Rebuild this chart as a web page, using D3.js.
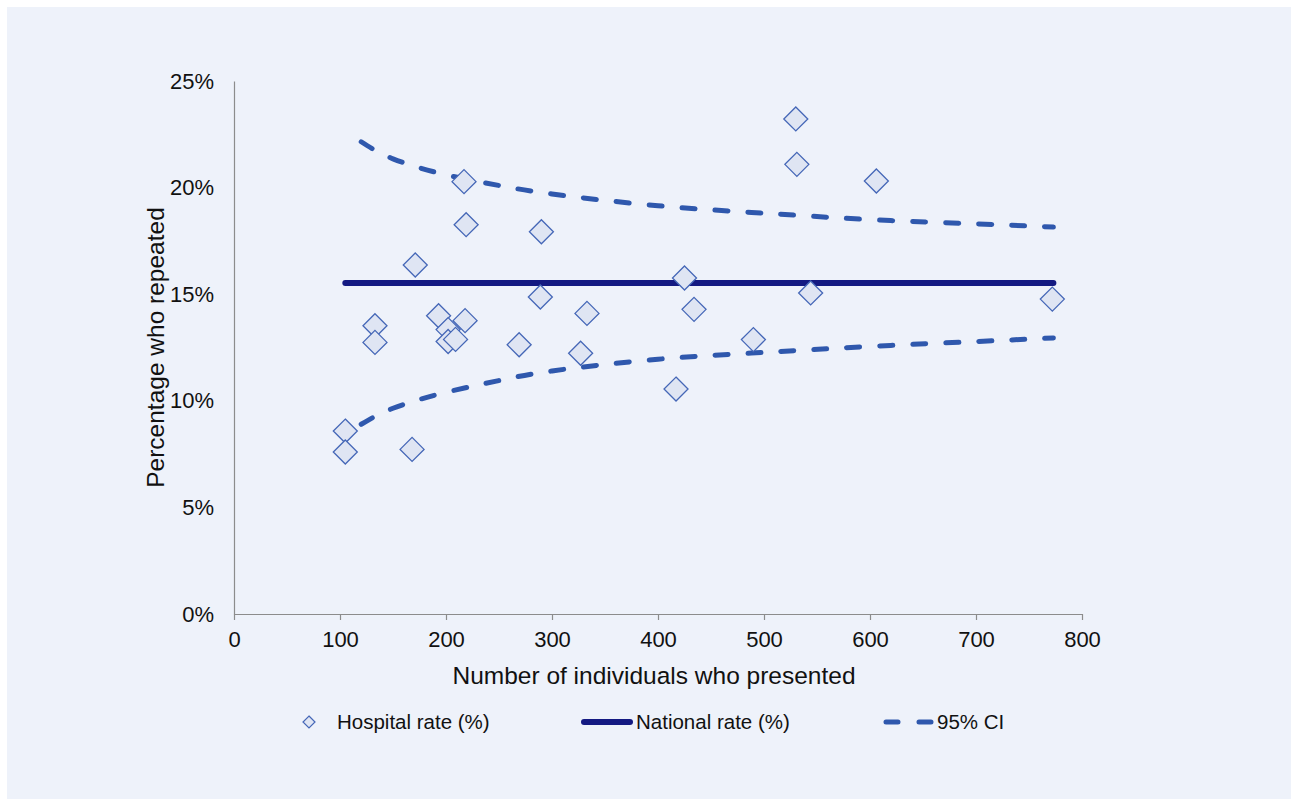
<!DOCTYPE html>
<html>
<head>
<meta charset="utf-8">
<script src="https://cdn.jsdelivr.net/npm/d3@7"></script>
<style>
  body { margin: 0; background: #fff; }
  svg text { font-family: "Liberation Sans", Arial, sans-serif; fill: #111; }
</style>
</head>
<body>
<svg width="1291" height="799"></svg>
<script>
// hospital points: individuals presented, % who repeated
var presented = [105, 105, 133, 133, 168, 171, 193, 218, 202, 202, 209, 217, 219,
                 290, 289, 269, 333, 327, 425, 434, 417, 490, 544, 530, 531, 606, 772];
var repeated  = [8.58, 7.6, 13.52, 12.74, 7.72, 16.37, 13.99, 13.76, 13.34, 12.78, 12.88, 20.28, 18.26,
                 17.93, 14.87, 12.63, 14.1, 12.23, 15.76, 14.29, 10.55, 12.87, 15.06, 23.22, 21.09, 20.31, 14.77];

var nationalRate = 15.53;
var nationalRange = [105, 773];

// 95% CI limits
var ciN     = [120, 150, 200, 250, 300, 400, 500, 600, 700, 773];
var ciUpper = [22.15, 21.35, 20.6, 20.1, 19.7, 19.15, 18.8, 18.5, 18.3, 18.15];
var ciLower = [8.9, 9.65, 10.4, 10.95, 11.4, 11.95, 12.27, 12.55, 12.78, 12.95];

var xTicks = [0, 100, 200, 300, 400, 500, 600, 700, 800];
var yTicks = [0, 5, 10, 15, 20, 25];

var svg = d3.select("svg");

svg.append("rect")
    .attr("x", 7).attr("y", 7)
    .attr("width", 1284).attr("height", 792)
    .attr("fill", "#eef2fa");

var margin = {top: 81, right: 209, bottom: 185, left: 234},
    width = 1291 - margin.left - margin.right,
    height = 799 - margin.top - margin.bottom;

var g = svg.append("g").attr("transform", "translate(" + margin.left + "," + margin.top + ")");

var x = d3.scaleLinear().domain([0, 800]).range([0, width]),
    y = d3.scaleLinear().domain([0, 25]).range([height, 0]);

// axes
var xAxis = g.append("g")
    .attr("transform", "translate(0," + height + ")")
    .call(d3.axisBottom(x).tickValues(xTicks).tickSizeInner(6).tickSizeOuter(0).tickPadding(10));
xAxis.selectAll("text").style("font-size", "22px").attr("dy", "0.75em");

var yAxis = g.append("g")
    .call(d3.axisLeft(y).tickValues(yTicks).tickSize(0).tickPadding(20)
        .tickFormat(function(d) { return d + "%"; }));
yAxis.selectAll("text").style("font-size", "22px");

g.selectAll(".domain, .tick line").attr("stroke", "#8c8c8c").attr("stroke-width", 1.2);

g.append("text")
    .attr("x", width / 2 - 4)
    .attr("y", height + 70)
    .attr("text-anchor", "middle")
    .style("font-size", "24.5px")
    .text("Number of individuals who presented");

g.append("text")
    .attr("transform", "rotate(-90)")
    .attr("x", -height / 2)
    .attr("y", -70)
    .attr("text-anchor", "middle")
    .style("font-size", "24.5px")
    .text("Percentage who repeated");

// CI lines
var ciLine = d3.line()
    .curve(d3.curveNatural)
    .x(function(d) { return x(d[0]); })
    .y(function(d) { return y(d[1]); });

[ciUpper, ciLower].forEach(function(vals) {
    g.append("path")
        .attr("d", ciLine(ciN.map(function(n, i) { return [n, vals[i]]; })))
        .attr("fill", "none")
        .attr("stroke", "#2f58ad")
        .attr("stroke-width", 5)
        .attr("stroke-linecap", "round")
        .attr("stroke-dasharray", "13,20");
});

// national rate
g.append("line")
    .attr("x1", x(nationalRange[0])).attr("x2", x(nationalRange[1]))
    .attr("y1", y(nationalRate)).attr("y2", y(nationalRate))
    .attr("stroke", "#141a82")
    .attr("stroke-width", 6)
    .attr("stroke-linecap", "round");

// hospitals
var diamond = function(r) {
    return "M0," + (-r) + "L" + r + ",0L0," + r + "L" + (-r) + ",0Z";
};

g.selectAll(".pt")
    .data(presented)
    .enter().append("path")
    .attr("class", "pt")
    .attr("transform", function(d, i) { return "translate(" + x(d) + "," + y(repeated[i]) + ")"; })
    .attr("d", diamond(12))
    .attr("fill", "#dfe5f3")
    .attr("stroke", "#4567b7")
    .attr("stroke-width", 1.3);

// legend
var leg = svg.append("g").attr("transform", "translate(0,722)");

leg.append("path")
    .attr("transform", "translate(309,0)")
    .attr("d", diamond(6))
    .attr("fill", "#dfe5f3")
    .attr("stroke", "#4567b7")
    .attr("stroke-width", 1.2);
leg.append("text").attr("x", 337).attr("dy", "0.35em").style("font-size", "20.5px").text("Hospital rate (%)");

leg.append("line")
    .attr("x1", 584).attr("x2", 630)
    .attr("stroke", "#141a82").attr("stroke-width", 6).attr("stroke-linecap", "round");
leg.append("text").attr("x", 636).attr("dy", "0.35em").style("font-size", "20.5px").text("National rate (%)");

leg.append("line")
    .attr("x1", 886).attr("x2", 931)
    .attr("stroke", "#2f58ad").attr("stroke-width", 5).attr("stroke-linecap", "round")
    .attr("stroke-dasharray", "12,21");
leg.append("text").attr("x", 937).attr("dy", "0.35em").style("font-size", "20.5px").text("95% CI");
</script>
</body>
</html>
